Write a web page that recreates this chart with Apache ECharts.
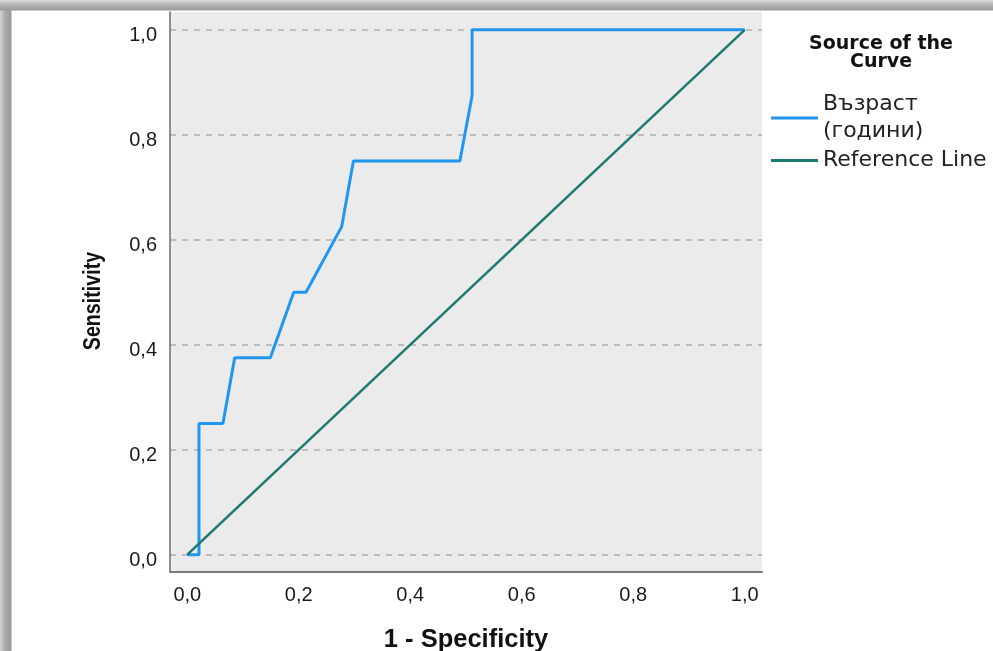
<!DOCTYPE html>
<html>
<head>
<meta charset="utf-8">
<script src="https://cdn.jsdelivr.net/npm/echarts@6/dist/echarts.min.js"></script>
<style>
  html, body { margin:0; padding:0; width:993px; height:651px; overflow:hidden; }
  body {
    background:
      linear-gradient(to bottom, #dcdcdc 0px, #b4b4b4 5px, #9c9c9c 10px, rgba(255,255,255,0) 11px) top left / 993px 11px no-repeat,
      linear-gradient(to right, #d4d4d4 0px, #aaaaaa 5px, #9a9a9a 11px, rgba(255,255,255,0) 12px) top left / 12px 651px no-repeat,
      #ffffff;
  }
  #chart { position:absolute; left:0; top:0; width:993px; height:651px; }
</style>
</head>
<body>
<div id="chart"></div>
<script>
// ---- data ----
const rocName = 'Възраст\n(години)';
const refName = 'Reference Line';
const rocFpr = [0, 0.021, 0.021, 0.064, 0.085, 0.149, 0.191, 0.213, 0.277, 0.298, 0.489, 0.511, 0.511, 1.0];
const rocTpr = [0, 0,     0.25,  0.25,  0.375, 0.375, 0.5,   0.5,   0.625, 0.75,  0.75,  0.875, 1.0,   1.0];
const refX = [0, 1];
const refY = [0, 1];
const xTickValues = [0, 0.2, 0.4, 0.6, 0.8, 1.0];
const yTickValues = [0, 0.2, 0.4, 0.6, 0.8, 1.0];
const xTitle = '1 - Specificity';
const yTitle = 'Sensitivity';
const legendTitle = 'Source of the\nCurve';

const fmt = v => v.toFixed(1).replace('.', ',');
const pairs = (xs, ys) => xs.map((x, i) => [x, ys[i]]);

const chart = echarts.init(document.getElementById('chart'), null, { renderer: 'canvas' });
chart.setOption({
  animation: false,
  grid: {
    left: 170, top: 12, right: 231, bottom: 79,
    outerBoundsMode: 'none', containLabel: false,
    show: true, backgroundColor: '#ebebeb', borderWidth: 0
  },
  xAxis: {
    type: 'value', min: -0.031, max: 1.031,
    axisLine: { show: true, onZero: false, lineStyle: { color: '#7a7a7a', width: 2 } },
    axisTick: { show: false, customValues: xTickValues },
    axisLabel: {
      customValues: xTickValues, formatter: fmt, margin: 13,
      fontFamily: '"Liberation Sans", Arial, sans-serif', fontSize: 20, color: '#1a1a1a'
    },
    splitLine: { show: false },
    name: xTitle, nameLocation: 'middle', nameGap: 55,
    nameTextStyle: { fontFamily: '"Liberation Sans", Arial, sans-serif', fontWeight: 'bold', fontSize: 25.5, color: '#111' }
  },
  yAxis: {
    type: 'value', min: -0.033, max: 1.034,
    axisLine: { show: true, onZero: false, lineStyle: { color: '#6e6e6e', width: 1.5 } },
    axisTick: { show: false, customValues: yTickValues },
    axisLabel: {
      customValues: yTickValues, formatter: fmt, margin: 13,
      fontFamily: '"Liberation Sans", Arial, sans-serif', fontSize: 20, color: '#1a1a1a',
      verticalAlign: 'top', lineHeight: 12
    },
    splitLine: { show: true, lineStyle: { color: '#bdbdbd', width: 2, type: [6, 6] } }
  },
  legend: {
    orient: 'vertical', left: 771, top: 91, padding: 0,
    icon: 'rect', itemWidth: 47, itemHeight: 3, itemGap: 2,
    textStyle: { fontFamily: '"DejaVu Sans", sans-serif', fontSize: 22, lineHeight: 27, color: '#222' },
    data: [rocName, refName]
  },
  graphic: [
    {
      type: 'text', x: 881, y: 35,
      style: {
        text: legendTitle, align: 'center', verticalAlign: 'top',
        font: 'bold 19px "DejaVu Sans", sans-serif', lineHeight: 18, fill: '#111'
      }
    },
    {
      type: 'text', x: 93, y: 301, rotation: Math.PI / 2, scaleX: 0.82,
      style: {
        text: yTitle, align: 'center', verticalAlign: 'middle',
        font: 'bold 24px "Liberation Sans", Arial, sans-serif', fill: '#111'
      }
    }
  ],
  series: [
    {
      name: rocName, type: 'line', symbol: 'none', data: pairs(rocFpr, rocTpr),
      lineStyle: { color: '#2196f0', width: 3 }, itemStyle: { color: '#2196f0' }, z: 2
    },
    {
      name: refName, type: 'line', symbol: 'none', data: pairs(refX, refY),
      lineStyle: { color: '#1d7a70', width: 2.5 }, itemStyle: { color: '#1d7a70' }, z: 3
    }
  ]
});
</script>
</body>
</html>
